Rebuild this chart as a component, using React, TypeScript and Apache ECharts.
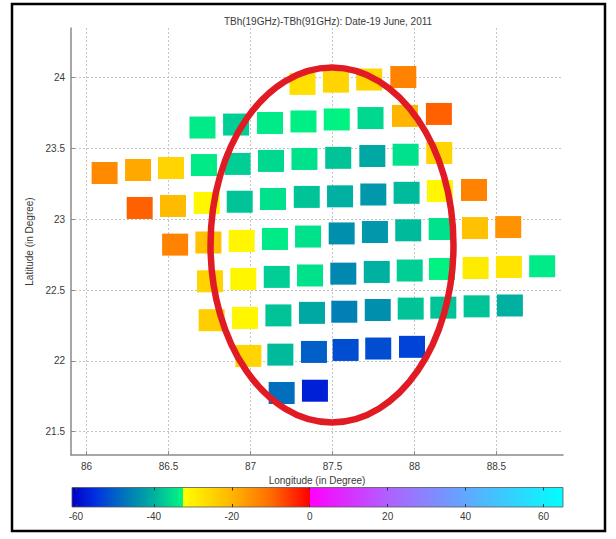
import React, { useEffect, useRef } from "react";
import * as echarts from "echarts";

const TITLE = "TBh(19GHz)-TBh(91GHz): Date-19 June, 2011";
const X_NAME = "Longitude (in Degree)";
const Y_NAME = "Latitude (in Degree)";
const X_TICKS = [86, 86.5, 87, 87.5, 88, 88.5];
const Y_TICKS = [21.5, 22, 22.5, 23, 23.5, 24];
const CBAR_TICKS = [-60, -40, -20, 0, 20, 40, 60];
const X_RANGE = [85.905, 88.906];
const Y_RANGE = [21.335, 24.351];
const CBAR_RANGE = [-61, 65];

// colormap stops [value, colour]
const CMAP: [number, string][] = [
  [-61, "#0000c8"],
  [-55, "#0030e0"],
  [-50, "#0060c8"],
  [-45, "#0088b0"],
  [-40, "#00b0a0"],
  [-36, "#00d890"],
  [-32.5, "#00f880"],
  [-32.5, "#ffff00"],
  [-25, "#ffd400"],
  [-18, "#ffa800"],
  [-10, "#ff6c00"],
  [0, "#ff0000"],
  [0, "#ff00ff"],
  [20, "#b060ff"],
  [40, "#60a8ff"],
  [65, "#00ffff"],
];

// footprint rows (top to bottom): longitude, latitude, TBh(19)-TBh(91)
const ROW1_LON = [87.317, 87.521, 87.724, 87.932];
const ROW1_LAT = [23.956, 23.972, 23.987, 24.005];
const ROW1_VAL = [-27, -25, -25, -13];

const ROW2_LON = [86.707, 86.912, 87.119, 87.323, 87.526, 87.732, 87.942, 88.149];
const ROW2_LAT = [23.648, 23.669, 23.68, 23.691, 23.705, 23.715, 23.73, 23.744];
const ROW2_VAL = [-34, -37, -34, -33.5, -33, -36, -20, -9];

const ROW3_LON = [86.11, 86.314, 86.515, 86.716, 86.921, 87.125, 87.329, 87.535, 87.743, 87.946, 88.151];
const ROW3_LAT = [23.327, 23.348, 23.362, 23.383, 23.391, 23.412, 23.426, 23.434, 23.447, 23.456, 23.468];
const ROW3_VAL = [-14, -18, -25, -34, -37, -36, -35, -38, -41, -35, -25];

const ROW4_LON = [86.324, 86.527, 86.733, 86.934, 87.137, 87.343, 87.546, 87.749, 87.952, 88.155, 88.363];
const ROW4_LAT = [23.08, 23.094, 23.115, 23.124, 23.143, 23.158, 23.162, 23.175, 23.187, 23.2, 23.207];
const ROW4_VAL = [-9, -21, -31, -38, -35, -38, -40, -43, -39, -31, -13];

const ROW5_LON = [86.54, 86.743, 86.946, 87.149, 87.351, 87.556, 87.759, 87.962, 88.166, 88.369, 88.572];
const ROW5_LAT = [22.821, 22.836, 22.847, 22.861, 22.878, 22.9, 22.91, 22.922, 22.931, 22.938, 22.945];
const ROW5_VAL = [-13, -22, -31, -34, -35, -44, -43, -39, -35, -22, -15];

const ROW6_LON = [86.753, 86.956, 87.16, 87.363, 87.566, 87.77, 87.971, 88.168, 88.373, 88.576, 88.779];
const ROW6_LAT = [22.562, 22.578, 22.593, 22.603, 22.616, 22.628, 22.638, 22.649, 22.656, 22.663, 22.668];
const ROW6_VAL = [-25, -31, -37, -35, -45, -40, -37, -33, -29, -28, -34];

const ROW7_LON = [86.763, 86.966, 87.17, 87.375, 87.572, 87.776, 87.977, 88.176, 88.379, 88.582];
const ROW7_LAT = [22.287, 22.303, 22.321, 22.339, 22.347, 22.359, 22.369, 22.376, 22.385, 22.391];
const ROW7_VAL = [-24, -31, -38, -41, -46, -44, -38, -38, -38, -40];

const ROW8_LON = [86.987, 87.182, 87.387, 87.58, 87.779, 87.985];
const ROW8_LAT = [22.035, 22.044, 22.063, 22.077, 22.087, 22.099];
const ROW8_VAL = [-25, -39, -50, -52, -52, -53];

const ROW9_LON = [87.19, 87.393];
const ROW9_LAT = [21.773, 21.789];
const ROW9_VAL = [-48, -57];

// highlighted region (ellipse) in data units: centre lon/lat and semi-axes
const RING_CENTER = [87.497, 22.8185];
const RING_RADII = [0.741, 1.2535];

const ROWS = [
  [ROW1_LON, ROW1_LAT, ROW1_VAL],
  [ROW2_LON, ROW2_LAT, ROW2_VAL],
  [ROW3_LON, ROW3_LAT, ROW3_VAL],
  [ROW4_LON, ROW4_LAT, ROW4_VAL],
  [ROW5_LON, ROW5_LAT, ROW5_VAL],
  [ROW6_LON, ROW6_LAT, ROW6_VAL],
  [ROW7_LON, ROW7_LAT, ROW7_VAL],
  [ROW8_LON, ROW8_LAT, ROW8_VAL],
  [ROW9_LON, ROW9_LAT, ROW9_VAL],
];

const FONT = "'Liberation Sans', Arial, sans-serif";
const TEXT_COLOR = "#3a3a3a";
const AXIS_COLOR = "#8a8a8a";

function hexToRgb(h: string) {
  const n = parseInt(h.slice(1), 16);
  return [(n >> 16) & 255, (n >> 8) & 255, n & 255];
}

function colorFor(v: number) {
  for (let i = 0; i < CMAP.length - 1; i++) {
    const [v0, c0] = CMAP[i];
    const [v1, c1] = CMAP[i + 1];
    if (v1 > v0 && v >= v0 && v <= v1) {
      const t = (v - v0) / (v1 - v0);
      const a = hexToRgb(c0);
      const b = hexToRgb(c1);
      const m = a.map((x, k) => Math.round(x + (b[k] - x) * t));
      return `rgb(${m[0]},${m[1]},${m[2]})`;
    }
  }
  return CMAP[CMAP.length - 1][1];
}

const GRID_MAIN = { left: 71, top: 28, width: 492, height: 427 };
const GRID_CBAR = { left: 72, top: 487.5, width: 491, height: 19.5 };

export default function App() {
  const ref = useRef<HTMLDivElement>(null);

  useEffect(() => {
    if (!ref.current) return;
    const chart = echarts.init(ref.current, undefined, { renderer: "svg" });

    const data: any[] = [];
    ROWS.forEach(([lons, lats, vals]) => {
      lons.forEach((lon, i) => {
        data.push({
          value: [lon, lats[i], vals[i]],
          itemStyle: { color: colorFor(vals[i]), opacity: 1 },
        });
      });
    });

    const span = CBAR_RANGE[1] - CBAR_RANGE[0];
    const stops = CMAP.map(([v, c]) => ({
      offset: (v - CBAR_RANGE[0]) / span,
      color: c,
    }));

    const labelStyle = { fontSize: 10, color: TEXT_COLOR, fontFamily: FONT };

    const option: any = {
      animation: false,
      backgroundColor: "#ffffff",
      title: {
        text: TITLE,
        left: 323,
        top: 11,
        textAlign: "center",
        textStyle: { fontSize: 10, fontWeight: "normal", color: TEXT_COLOR, fontFamily: FONT },
      },
      grid: [GRID_MAIN, GRID_CBAR],
      xAxis: [
        {
          gridIndex: 0,
          type: "value",
          min: X_RANGE[0],
          max: X_RANGE[1],
          name: X_NAME,
          nameLocation: "middle",
          nameGap: 18,
          nameTextStyle: { fontSize: 10, color: TEXT_COLOR, fontFamily: FONT },
          axisLine: { show: true, lineStyle: { color: AXIS_COLOR, width: 1.5 } },
          axisTick: { show: true, inside: true, length: 4, customValues: X_TICKS, lineStyle: { color: AXIS_COLOR } },
          axisLabel: { ...labelStyle, customValues: X_TICKS, margin: 6, formatter: (v: number) => String(v) },
          splitLine: { show: true, lineStyle: { type: [2, 2], color: "#c4c4c4", width: 1 } },
        },
        {
          gridIndex: 1,
          type: "value",
          min: CBAR_RANGE[0],
          max: CBAR_RANGE[1],
          position: "bottom",
          z: 10,
          axisLine: { show: false },
          axisTick: { show: true, inside: true, length: 3, customValues: CBAR_TICKS, lineStyle: { color: "#333" } },
          axisLabel: { ...labelStyle, customValues: CBAR_TICKS, margin: 4, formatter: (v: number) => String(v) },
          splitLine: { show: false },
        },
        {
          gridIndex: 1,
          type: "value",
          min: CBAR_RANGE[0],
          max: CBAR_RANGE[1],
          position: "top",
          z: 10,
          axisLine: { show: false },
          axisTick: { show: true, inside: true, length: 3, customValues: CBAR_TICKS, lineStyle: { color: "#333" } },
          axisLabel: { show: false },
          splitLine: { show: false },
        },
      ],
      yAxis: [
        {
          gridIndex: 0,
          type: "value",
          min: Y_RANGE[0],
          max: Y_RANGE[1],
          name: Y_NAME,
          nameLocation: "middle",
          nameGap: 33,
          nameTextStyle: { fontSize: 10, color: TEXT_COLOR, fontFamily: FONT },
          axisLine: { show: true, lineStyle: { color: AXIS_COLOR, width: 1.5 } },
          axisTick: { show: true, inside: true, length: 4, customValues: Y_TICKS, lineStyle: { color: AXIS_COLOR } },
          axisLabel: { ...labelStyle, customValues: Y_TICKS, margin: 6, formatter: (v: number) => String(v) },
          splitLine: { show: true, lineStyle: { type: [2, 2], color: "#c4c4c4", width: 1 } },
        },
        {
          gridIndex: 1,
          type: "value",
          min: 0,
          max: 1,
          show: false,
        },
      ],
      series: [
        {
          type: "scatter",
          xAxisIndex: 0,
          yAxisIndex: 0,
          symbol: "rect",
          symbolSize: [26, 22],
          itemStyle: { opacity: 1 },
          data,
          z: 3,
        },
      ],
      graphic: [
        {
          id: "frame",
          type: "rect",
          silent: true,
          z: 0,
          shape: { x: 12, y: 4, width: 593, height: 527 },
          style: { fill: "none", stroke: "#000", lineWidth: 2.5 },
        },
        {
          id: "cbar",
          type: "rect",
          silent: true,
          z: 1,
          shape: { x: GRID_CBAR.left, y: GRID_CBAR.top, width: GRID_CBAR.width, height: GRID_CBAR.height },
          style: {
            fill: new echarts.graphic.LinearGradient(0, 0, 1, 0, stops),
            stroke: "#555",
            lineWidth: 0.8,
          },
        },
      ],
    };

    chart.setOption(option);

    const c = chart.convertToPixel({ gridIndex: 0 }, RING_CENTER) as number[];
    const e = chart.convertToPixel({ gridIndex: 0 }, [
      RING_CENTER[0] + RING_RADII[0],
      RING_CENTER[1] + RING_RADII[1],
    ]) as number[];
    chart.setOption({
      graphic: [
        {
          id: "ring",
          type: "ellipse",
          silent: true,
          z: 100,
          shape: { cx: c[0], cy: c[1], rx: Math.abs(e[0] - c[0]), ry: Math.abs(e[1] - c[1]) },
          style: { fill: "none", stroke: "#e01b24", lineWidth: 6.5 },
        },
      ],
    });

    return () => chart.dispose();
  }, []);

  return (
    <div
      ref={ref}
      style={{ position: "fixed", left: 0, top: 0, width: 616, height: 539, background: "#fff" }}
    />
  );
}
